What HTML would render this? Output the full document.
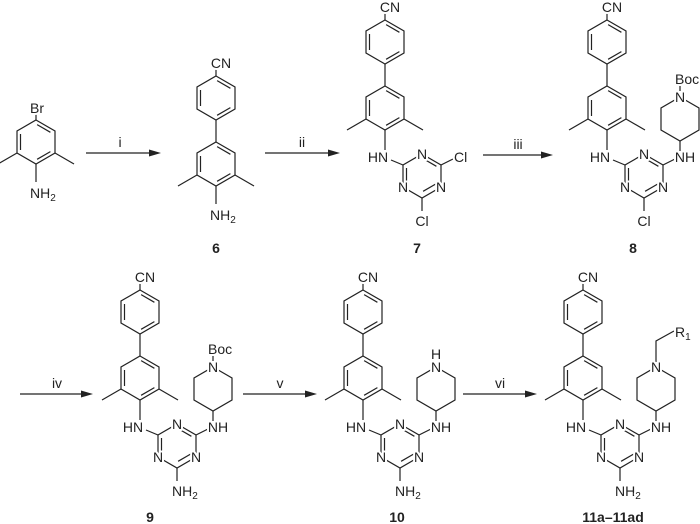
<!DOCTYPE html>
<html><head><meta charset="utf-8"><style>
html,body{margin:0;padding:0;background:#fff;width:700px;height:524px;overflow:hidden}
svg{display:block}
text{font-family:"Liberation Sans",sans-serif;font-size:14px;fill:#222;stroke:#fff;stroke-width:4px;paint-order:stroke;stroke-linejoin:round}
.lbl{font-weight:bold;font-size:14px}
line,polyline,polygon.r{stroke:#222;stroke-width:1.2;fill:none}
</style></head><body>
<svg width="700" height="524" viewBox="0 0 700 524" xmlns="http://www.w3.org/2000/svg">
<defs>
<g id="lower">
<polygon class="r" points="0,86 19,97 19,119 0,130 -19,119 -19,97"/>
<line x1="-15.5" y1="100" x2="-15.5" y2="116"/>
<line x1="1.1" y1="90.6" x2="14.4" y2="98.3"/>
<line x1="14.4" y1="117.6" x2="1.1" y2="125.3"/>
<line x1="-19" y1="119" x2="-38" y2="130"/>
<line x1="19" y1="119" x2="38" y2="130"/>
</g>
<g id="biaryl">
<line x1="0" y1="13" x2="0" y2="20"/>
<polygon class="r" points="0,20 19,31 19,53 0,64 -19,53 -19,31"/>
<line x1="-15.5" y1="34" x2="-15.5" y2="50"/>
<line x1="1.1" y1="24.6" x2="14.4" y2="32.3"/>
<line x1="14.4" y1="51.6" x2="1.1" y2="59.3"/>
<line x1="0" y1="64" x2="0" y2="86"/>
<use href="#lower"/>
</g>
<g id="triaz">
<line x1="0" y1="130" x2="0" y2="150"/>
<line x1="6" y1="160" x2="18" y2="165"/>
<polygon class="r" points="37,154 56,165 56,187 37,198 18,187 18,165"/>
<line x1="21.5" y1="168" x2="21.5" y2="184"/>
<line x1="38.1" y1="158.6" x2="51.4" y2="166.3"/>
<line x1="51.4" y1="183.6" x2="38.1" y2="191.3"/>
<line x1="37" y1="198" x2="37" y2="211"/>
<line x1="56" y1="165" x2="68" y2="159"/>
</g>
<g id="pip">
<line x1="73" y1="141" x2="73" y2="151"/>
<polygon class="r" points="73,97 92,108 92,130 73,141 54,130 54,108"/>
</g>
</defs>

<g transform="translate(36,34)">
<use href="#lower"/>
<line x1="0" y1="86" x2="0" y2="78"/>
<line x1="0" y1="130" x2="0" y2="148"/>
<text x="-6" y="79">Br</text>
<text x="-6" y="164">NH<tspan font-size="10" dy="3">2</tspan></text>
</g>

<g>
<line x1="86" y1="153" x2="152" y2="153"/><polygon points="161,153 149,149.5 149,156.5" fill="#222"/>
<text x="120" y="147" text-anchor="middle">i</text>
<line x1="265" y1="153" x2="331" y2="153"/><polygon points="340,153 328,149.5 328,156.5" fill="#222"/>
<text x="302" y="147" text-anchor="middle">ii</text>
<line x1="483" y1="155" x2="544" y2="155"/><polygon points="553,155 541,151.5 541,158.5" fill="#222"/>
<text x="518" y="149" text-anchor="middle">iii</text>
</g>

<g transform="translate(216,56)">
<use href="#biaryl"/>
<line x1="0" y1="130" x2="0" y2="148"/>
<text x="5" y="12" text-anchor="middle">CN</text>
<text x="-6" y="164">NH<tspan font-size="10" dy="3">2</tspan></text>
</g>
<text class="lbl" x="216" y="253" text-anchor="middle">6</text>

<g transform="translate(385,0)">
<use href="#biaryl"/><use href="#triaz"/>
<text x="5" y="12" text-anchor="middle">CN</text>
<text x="-7" y="162" text-anchor="middle">HN</text>
<text x="37" y="159" text-anchor="middle">N</text>
<text x="56" y="192" text-anchor="middle">N</text>
<text x="18" y="192" text-anchor="middle">N</text>
<text x="69" y="162">Cl</text>
<text x="37" y="226" text-anchor="middle">Cl</text>
</g>
<text class="lbl" x="417" y="253" text-anchor="middle">7</text>

<g transform="translate(607,0)">
<use href="#biaryl"/><use href="#triaz"/><use href="#pip"/>
<line x1="73" y1="91" x2="73" y2="86"/>
<text x="5" y="12" text-anchor="middle">CN</text>
<text x="-7" y="162" text-anchor="middle">HN</text>
<text x="37" y="159" text-anchor="middle">N</text>
<text x="56" y="192" text-anchor="middle">N</text>
<text x="18" y="192" text-anchor="middle">N</text>
<text x="78" y="162" text-anchor="middle">NH</text>
<text x="73" y="102" text-anchor="middle">N</text>
<text x="68" y="84">Boc</text>
<text x="37" y="226" text-anchor="middle">Cl</text>
</g>
<text class="lbl" x="633" y="253" text-anchor="middle">8</text>

<g>
<line x1="20" y1="394" x2="84" y2="394"/><polygon points="93,394 81,390.5 81,397.5" fill="#222"/>
<text x="57" y="388" text-anchor="middle">iv</text>
<line x1="243" y1="394" x2="308" y2="394"/><polygon points="317,394 305,390.5 305,397.5" fill="#222"/>
<text x="280" y="388" text-anchor="middle">v</text>
<line x1="463" y1="394" x2="528" y2="394"/><polygon points="537,394 525,390.5 525,397.5" fill="#222"/>
<text x="500" y="388" text-anchor="middle">vi</text>
</g>

<g transform="translate(140,270)">
<use href="#biaryl"/><use href="#triaz"/><use href="#pip"/>
<line x1="73" y1="91" x2="73" y2="86"/>
<text x="5" y="12" text-anchor="middle">CN</text>
<text x="-7" y="162" text-anchor="middle">HN</text>
<text x="37" y="159" text-anchor="middle">N</text>
<text x="56" y="192" text-anchor="middle">N</text>
<text x="18" y="192" text-anchor="middle">N</text>
<text x="78" y="162" text-anchor="middle">NH</text>
<text x="73" y="102" text-anchor="middle">N</text>
<text x="68" y="84">Boc</text>
<text x="32" y="226">NH<tspan font-size="10" dy="3">2</tspan></text>
</g>
<text class="lbl" x="150" y="522" text-anchor="middle">9</text>

<g transform="translate(363,270)">
<use href="#biaryl"/><use href="#triaz"/><use href="#pip"/>
<text x="5" y="12" text-anchor="middle">CN</text>
<text x="-7" y="162" text-anchor="middle">HN</text>
<text x="37" y="159" text-anchor="middle">N</text>
<text x="56" y="192" text-anchor="middle">N</text>
<text x="18" y="192" text-anchor="middle">N</text>
<text x="78" y="162" text-anchor="middle">NH</text>
<text x="73" y="102" text-anchor="middle">N</text>
<text x="73" y="89" text-anchor="middle">H</text>
<text x="32" y="226">NH<tspan font-size="10" dy="3">2</tspan></text>
</g>
<text class="lbl" x="397" y="522" text-anchor="middle">10</text>

<g transform="translate(583,270)">
<use href="#biaryl"/><use href="#triaz"/><use href="#pip"/>
<polyline points="73,92 73,71 91,61"/>
<text x="5" y="12" text-anchor="middle">CN</text>
<text x="-7" y="162" text-anchor="middle">HN</text>
<text x="37" y="159" text-anchor="middle">N</text>
<text x="56" y="192" text-anchor="middle">N</text>
<text x="18" y="192" text-anchor="middle">N</text>
<text x="78" y="162" text-anchor="middle">NH</text>
<text x="73" y="102" text-anchor="middle">N</text>
<text x="92" y="67">R<tspan font-size="10" dy="3">1</tspan></text>
<text x="32" y="226">NH<tspan font-size="10" dy="3">2</tspan></text>
</g>
<text class="lbl" x="613" y="522" text-anchor="middle">11a–11ad</text>
</svg>
</body></html>
